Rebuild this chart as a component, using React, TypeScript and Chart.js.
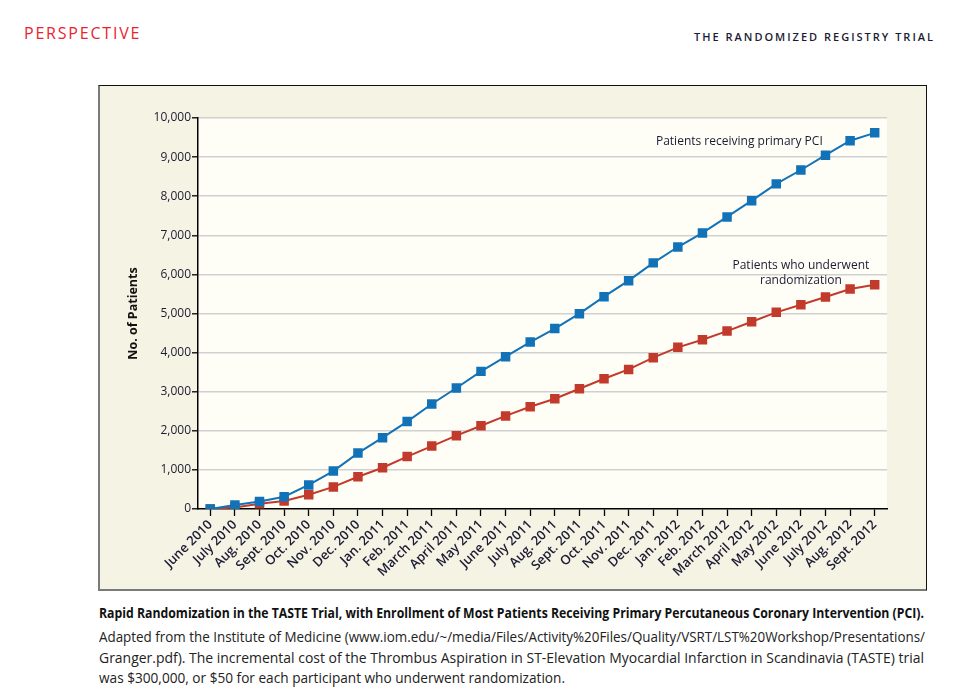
import React, { useEffect, useLayoutEffect, useRef } from "react";
import { Chart, registerables } from "chart.js";

Chart.register(...registerables);

const months: string[] = [
  "June 2010", "July 2010", "Aug. 2010", "Sept. 2010", "Oct. 2010", "Nov. 2010", "Dec. 2010",
  "Jan. 2011", "Feb. 2011", "March 2011", "April 2011", "May 2011", "June 2011", "July 2011",
  "Aug. 2011", "Sept. 2011", "Oct. 2011", "Nov. 2011", "Dec. 2011", "Jan. 2012", "Feb. 2012",
  "March 2012", "April 2012", "May 2012", "June 2012", "July 2012", "Aug. 2012", "Sept. 2012",
];

const primaryPCI: number[] = [
  0, 100, 190, 315, 615, 970, 1430, 1825, 2235, 2685, 3095, 3520, 3895, 4270,
  4615, 4995, 5430, 5840, 6295, 6700, 7060, 7470, 7885, 8315, 8670, 9050, 9420, 9620,
];

const randomized: number[] = [
  0, 40, 135, 205, 365, 565, 825, 1055, 1340, 1610, 1875, 2130, 2380, 2615,
  2820, 3075, 3330, 3570, 3870, 4135, 4330, 4550, 4790, 5030, 5225, 5420, 5625, 5735,
];

const yTicks: number[] = [0, 1000, 2000, 3000, 4000, 5000, 6000, 7000, 8000, 9000, 10000];

const seriesNames: string[] = ["Patients receiving primary PCI", "Patients who underwent randomization"];

const BLUE = "#1172b8";
const RED = "#c23a2b";
const INK = "#1b1b33";
const FONT = "'Open Sans', 'DejaVu Sans', sans-serif";

const plotBg = {
  id: "plotBg",
  beforeDraw(chart: any) {
    const { ctx, chartArea } = chart;
    ctx.save();
    ctx.fillStyle = "#fefef7";
    ctx.fillRect(chartArea.left, chartArea.top, chartArea.right - chartArea.left, chartArea.bottom - chartArea.top);
    ctx.restore();
  },
};

const labelsPlugin = {
  id: "seriesLabels",
  afterDatasetsDraw(chart: any) {
    const { ctx } = chart;
    const x = chart.scales.x;
    const y = chart.scales.y;
    ctx.save();
    ctx.fillStyle = INK;
    ctx.font = `12px ${FONT}`;
    ctx.textAlign = "center";
    ctx.textBaseline = "middle";
    const x1 = (x.getPixelForValue(21) + x.getPixelForValue(22)) / 2;
    ctx.fillText(seriesNames[0], x1, y.getPixelForValue(9390));
    const x2 = x.getPixelForValue(24);
    ctx.fillText("Patients who underwent", x2, y.getPixelForValue(6215));
    ctx.fillText("randomization", x2, y.getPixelForValue(5830));
    ctx.restore();
  },
};

function FitLine({ width, style, children }: { width: number; style?: React.CSSProperties; children: React.ReactNode }) {
  const ref = useRef<HTMLSpanElement | null>(null);
  useLayoutEffect(() => {
    const el = ref.current;
    if (!el) return;
    el.style.transform = "none";
    const w = el.getBoundingClientRect().width;
    if (w > 0) el.style.transform = `scaleX(${width / w})`;
  }, [width]);
  return (
    <div style={{ height: style && style.lineHeight ? style.lineHeight : undefined, whiteSpace: "nowrap" }}>
      <span ref={ref} style={{ display: "inline-block", whiteSpace: "nowrap", transformOrigin: "0 0", ...style }}>
        {children}
      </span>
    </div>
  );
}

function App() {
  const ref = useRef<HTMLCanvasElement | null>(null);

  useEffect(() => {
    if (!ref.current) return;
    const chart = new Chart(ref.current, {
      type: "line",
      data: {
        labels: months,
        datasets: [
          {
            label: seriesNames[0],
            data: primaryPCI,
            borderColor: BLUE,
            backgroundColor: BLUE,
            borderWidth: 2,
            pointStyle: "rect",
            pointRadius: 6.7,
            pointBorderWidth: 0,
            tension: 0,
          },
          {
            label: seriesNames[1],
            data: randomized,
            borderColor: RED,
            backgroundColor: RED,
            borderWidth: 2,
            pointStyle: "rect",
            pointRadius: 6.7,
            pointBorderWidth: 0,
            tension: 0,
          },
        ],
      },
      options: {
        animation: false,
        responsive: false,
        devicePixelRatio: 1,
        layout: { padding: { left: 0, right: 40, top: 32, bottom: 0 } },
        plugins: {
          legend: { display: false },
          tooltip: { enabled: false },
          title: { display: false },
        },
        scales: {
          x: {
            type: "category",
            offset: true,
            grid: {
              drawOnChartArea: false,
              drawTicks: true,
              tickLength: 7,
              tickColor: "#000",
              tickWidth: 1.3,
              offset: false,
            },
            border: { color: "#000", width: 1.5 },
            ticks: {
              color: INK,
              font: { family: FONT, size: 13, weight: 600 },
              minRotation: 45,
              maxRotation: 45,
              autoSkip: false,
              padding: 1,
            },
            afterFit(scale: any) {
              scale.height = 82;
            },
          },
          y: {
            min: 0,
            max: 10000,
            afterBuildTicks(scale: any) {
              scale.ticks = yTicks.map((v) => ({ value: v }));
            },
            grid: {
              color: (c: any) => (c.tick && c.tick.value === 0 ? "rgba(0,0,0,0)" : "#d0d0d0"),
              lineWidth: 1.6,
              tickColor: "#000",
              tickLength: 6,
              tickWidth: 1.3,
            },
            border: { color: "#000", width: 1.5 },
            ticks: {
              color: INK,
              font: { family: FONT, size: 12 },
              padding: 1,
              callback: (v: any) => Number(v).toLocaleString("en-US"),
            },
            title: {
              display: true,
              text: "No. of Patients",
              color: "#111",
              font: { family: FONT, size: 12.5, weight: "bold" },
              padding: { top: 26.5, bottom: 0 },
            },
            afterFit(scale: any) {
              scale.width = 99;
            },
          },
        },
      },
      plugins: [plotBg, labelsPlugin],
    } as any);
    return () => chart.destroy();
  }, []);

  return (
    <div style={{ position: "absolute", left: 0, top: 0, width: 972, height: 700, background: "#fff", fontFamily: FONT, overflow: "hidden" }}>
      <div style={{ position: "absolute", left: 24, top: 21, fontSize: 16, letterSpacing: 1.8, color: "#ea2330", lineHeight: "24px" }}>
        PERSPECTIVE
      </div>
      <div style={{ position: "absolute", right: 37, top: 29, fontSize: 11, letterSpacing: 2, color: INK, lineHeight: "16px", fontWeight: 600 }}>
        THE RANDOMIZED REGISTRY TRIAL
      </div>
      <div
        style={{
          position: "absolute",
          left: 98,
          top: 85,
          width: 829,
          height: 506,
          boxSizing: "border-box",
          background: "#f5f3e4",
          borderTop: "1.5px solid #111",
          borderRight: "1.5px solid #111",
          borderLeft: "2px solid #7a7a7a",
          borderBottom: "2px solid #7a7a7a",
        }}
      />
      <canvas ref={ref} width={828} height={505} style={{ position: "absolute", left: 99, top: 86, width: 828, height: 505 }} />
      <div style={{ position: "absolute", left: 99, top: 601, width: 826, color: "#111" }}>
        <FitLine width={825} style={{ fontWeight: "bold", fontSize: 14, lineHeight: "20px" }}>
          Rapid Randomization in the TASTE Trial, with Enrollment of Most Patients Receiving Primary Percutaneous Coronary Intervention (PCI).
        </FitLine>
        <div style={{ height: 4 }} />
        <FitLine width={826} style={{ fontSize: 14.5, lineHeight: "20.5px", color: "#222" }}>
          Adapted from the Institute of Medicine (www.iom.edu/~/media/Files/Activity%20Files/Quality/VSRT/LST%20Workshop/Presentations/
        </FitLine>
        <FitLine width={825} style={{ fontSize: 14.5, lineHeight: "20.5px", color: "#222" }}>
          Granger.pdf). The incremental cost of the Thrombus Aspiration in ST-Elevation Myocardial Infarction in Scandinavia (TASTE) trial
        </FitLine>
        <FitLine width={466} style={{ fontSize: 14.5, lineHeight: "20.5px", color: "#222" }}>
          was $300,000, or $50 for each participant who underwent randomization.
        </FitLine>
      </div>
    </div>
  );
}

export default App;
